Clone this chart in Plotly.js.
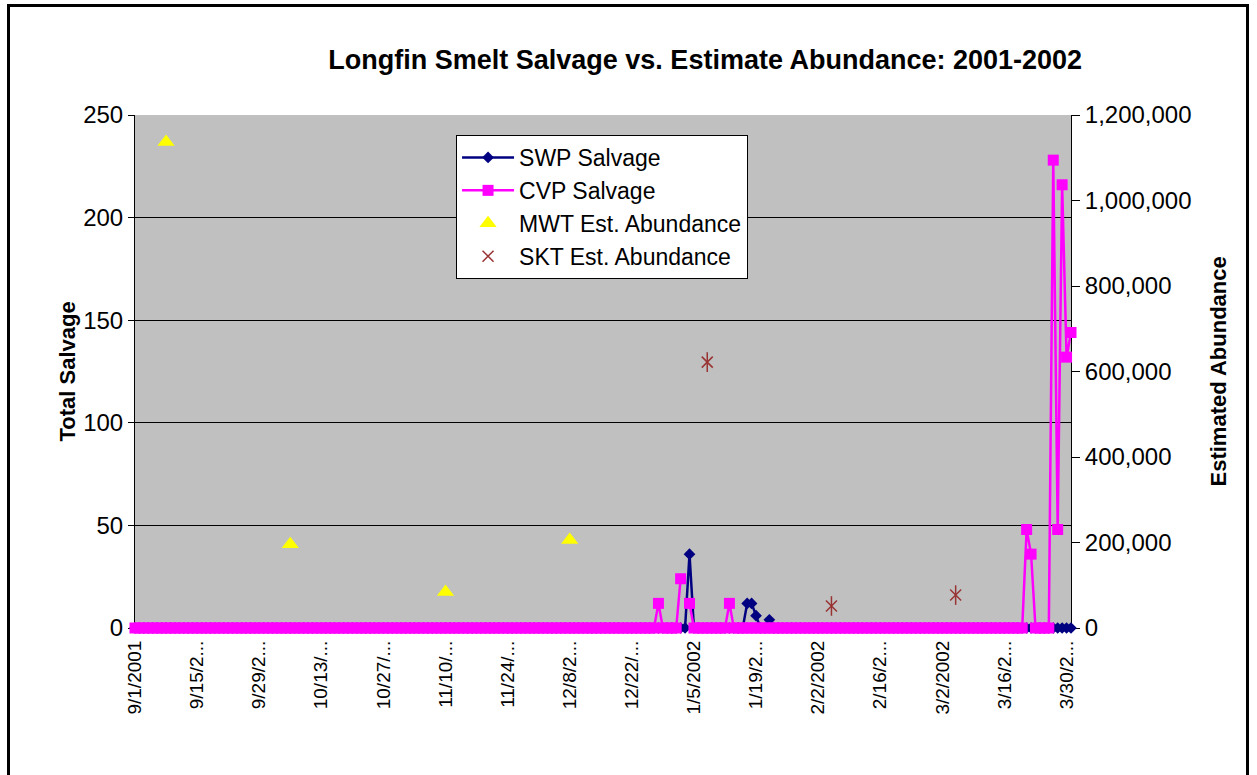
<!DOCTYPE html>
<html><head><meta charset="utf-8">
<script src="https://cdn.plot.ly/plotly-3.0.1.min.js"></script>
<style>
html,body{margin:0;padding:0;background:#fff;overflow:hidden;}
#chart{position:absolute;left:0;top:0;width:1257px;height:775px;}
#frame{position:absolute;left:7px;top:4px;width:1242px;height:820px;border:3px solid #000;border-bottom:none;pointer-events:none;box-sizing:border-box;}
</style></head><body>
<div id="chart"></div><div id="frame"></div>
<script>
// ---- data ----
const startDate = '2001-09-01';
const dayCount = 212; // 9/1/2001 .. 3/31/2002

const tickDates = ['2001-09-01','2001-09-15','2001-09-29','2001-10-13','2001-10-27','2001-11-10','2001-11-24','2001-12-08','2001-12-22','2002-01-05','2002-01-19','2002-02-02','2002-02-16','2002-03-02','2002-03-16','2002-03-30'];
const tickLabels = ['9/1/2001','9/15/2...','9/29/2...','10/13/...','10/27/...','11/10/...','11/24/...','12/8/2...','12/22/...','1/5/2002','1/19/2...','2/2/2002','2/16/2...','3/2/2002','3/16/2...','3/30/2...'];

const swpSalvage = [
  // Sep 2001
  0,0,0,0,0,0,0,0,0,0, 0,0,0,0,0,0,0,0,0,0, 0,0,0,0,0,0,0,0,0,0,
  // Oct
  0,0,0,0,0,0,0,0,0,0, 0,0,0,0,0,0,0,0,0,0, 0,0,0,0,0,0,0,0,0,0, 0,
  // Nov
  0,0,0,0,0,0,0,0,0,0, 0,0,0,0,0,0,0,0,0,0, 0,0,0,0,0,0,0,0,0,0,
  // Dec
  0,0,0,0,0,0,0,0,0,0, 0,0,0,0,0,0,0,0,0,0, 0,0,0,0,0,0,0,0,0,0, 0,
  // Jan 2002
  0,0,0,36,0,0,0,0,0,0, 0,0,0,0,0,0,12,12,6,0, 0,4,0,0,0,0,0,0,0,0, 0,
  // Feb
  0,0,0,0,0,0,0,0,0,0, 0,0,0,0,0,0,0,0,0,0, 0,0,0,0,0,0,0,0,
  // Mar
  0,0,0,0,0,0,0,0,0,0, 0,0,0,0,0,0,0,0,0,0, 0,0,0,0,0,0,0,0,0,0, 0
];

const cvpSalvage = [
  // Sep 2001
  0,0,0,0,0,0,0,0,0,0, 0,0,0,0,0,0,0,0,0,0, 0,0,0,0,0,0,0,0,0,0,
  // Oct
  0,0,0,0,0,0,0,0,0,0, 0,0,0,0,0,0,0,0,0,0, 0,0,0,0,0,0,0,0,0,0, 0,
  // Nov
  0,0,0,0,0,0,0,0,0,0, 0,0,0,0,0,0,0,0,0,0, 0,0,0,0,0,0,0,0,0,0,
  // Dec
  0,0,0,0,0,0,0,0,0,0, 0,0,0,0,0,0,0,0,0,0, 0,0,0,0,0,0,0,12,0,0, 0,
  // Jan 2002
  0,24,null,12,0,0,0,0,0,0, 0,0,12,0,0,0,0,0,0,0, 0,0,0,0,0,0,0,0,0,0, 0,
  // Feb
  0,0,0,0,0,0,0,0,0,0, 0,0,0,0,0,0,0,0,0,0, 0,0,0,0,0,0,0,0,
  // Mar
  0,0,0,0,0,0,0,0,0,0, 0,0,0,0,0,0,0,0,0,0, 48,36,0,0,0,0,228,48,216,132, 144
];

const mwtDates = ['2001-09-08','2001-10-06','2001-11-10','2001-12-08'];
const mwtAbundance = [1137000, 196000, 84000, 206000];

const sktDates = ['2002-01-08','2002-02-05','2002-03-05'];
const sktAbundance = [622000, 51500, 77000];

// ---- build daily category dates ----
const days = [];
for (let i = 0; i < dayCount; i++) {
  const d = new Date(Date.UTC(2001, 8, 1 + i));
  days.push(d.toISOString().slice(0, 10));
}

const FONT = 'Liberation Sans, Arial, sans-serif';

const traces = [
  {
    name: 'SWP Salvage', x: days, y: swpSalvage, type: 'scatter', mode: 'lines+markers',
    line: {color: '#000080', width: 2.5},
    marker: {symbol: 'diamond', size: 9, color: '#000080'},
    cliponaxis: false
  },
  {
    name: 'CVP Salvage', x: days, y: cvpSalvage, type: 'scatter', mode: 'lines+markers',
    line: {color: '#FF00FF', width: 2.5},
    marker: {symbol: 'square', size: 11, color: '#FF00FF'},
    cliponaxis: false
  },
  {
    name: 'MWT Est. Abundance', x: mwtDates, y: mwtAbundance, yaxis: 'y2', type: 'scatter', mode: 'markers',
    marker: {symbol: 'triangle-up', size: 15, color: '#FFFF00'},
    cliponaxis: false
  },
  {
    name: 'SKT Est. Abundance', x: sktDates, y: sktAbundance, yaxis: 'y2', type: 'scatter', mode: 'markers',
    legendgroup: 'skt',
    marker: {symbol: 'x-thin-open', size: 11, color: '#993333', line: {color: '#993333', width: 1.5}},
    cliponaxis: false
  },
  {
    name: 'SKT Est. Abundance', x: sktDates, y: sktAbundance, yaxis: 'y2', type: 'scatter', mode: 'markers',
    legendgroup: 'skt', showlegend: false,
    marker: {symbol: 'line-ns-open', size: 14, color: '#993333', line: {color: '#993333', width: 1.5}},
    cliponaxis: false
  }
];

const layout = {
  width: 1257, height: 775,
  paper_bgcolor: '#FFFFFF', plot_bgcolor: '#C0C0C0',
  margin: {l: 135, r: 186, t: 115, b: 147, pad: 0},
  font: {family: FONT, color: '#000000'},
  title: {
    text: 'Longfin Smelt Salvage vs. Estimate Abundance: 2001-2002',
    font: {family: FONT, size: 27, color: '#000000', weight: 700},
    xref: 'container', x: 0.561, xanchor: 'center',
    yref: 'container', y: 1 - 60 / 775, yanchor: 'middle'
  },
  xaxis: {
    type: 'date', range: ['2001-09-01', '2002-03-31'],
    tickmode: 'array', tickvals: tickDates, ticktext: tickLabels,
    tickangle: -90, tickfont: {family: FONT, size: 19, color: '#000'},
    ticks: 'outside', ticklen: 4, tickcolor: '#000',
    showgrid: false, zeroline: false, showline: true, linecolor: '#000', linewidth: 1,
    layer: 'below traces', fixedrange: true
  },
  yaxis: {
    range: [0, 250], tickmode: 'linear', tick0: 0, dtick: 50,
    tickfont: {family: FONT, size: 24, color: '#000'},
    ticks: 'outside', ticklen: 6, tickcolor: '#000',
    showgrid: true, gridcolor: '#000000', gridwidth: 1,
    zeroline: false, showline: true, linecolor: '#000', linewidth: 1,
    layer: 'below traces', fixedrange: true
  },
  yaxis2: {
    range: [0, 1200000], tickmode: 'linear', tick0: 0, dtick: 200000, tickformat: ',d',
    overlaying: 'y', side: 'right',
    tickfont: {family: FONT, size: 24, color: '#000'},
    ticks: 'outside', ticklen: 8, tickcolor: '#000',
    showgrid: false, zeroline: false, showline: true, linecolor: '#000', linewidth: 1,
    layer: 'below traces', fixedrange: true
  },
  legend: {
    x: 0.343, y: 0.961, xanchor: 'left', yanchor: 'top',
    bgcolor: '#FFFFFF', bordercolor: '#000000', borderwidth: 1,
    font: {family: FONT, size: 23, color: '#000'},
    itemwidth: 52, traceorder: 'normal', tracegroupgap: 0
  },
  annotations: [
    {text: 'Total Salvage', xref: 'paper', yref: 'paper', x: (67 - 135) / 936, y: 0.5,
     xanchor: 'center', yanchor: 'middle', textangle: -90, showarrow: false,
     font: {family: FONT, size: 22, color: '#000', weight: 700}},
    {text: 'Estimated Abundance', xref: 'paper', yref: 'paper', x: (1218 - 135) / 936, y: 0.5,
     xanchor: 'center', yanchor: 'middle', textangle: -90, showarrow: false,
     font: {family: FONT, size: 22, color: '#000', weight: 700}}
  ],
  hovermode: false
};

Plotly.newPlot('chart', traces, layout, {displayModeBar: false, staticPlot: true});
</script></body></html>
